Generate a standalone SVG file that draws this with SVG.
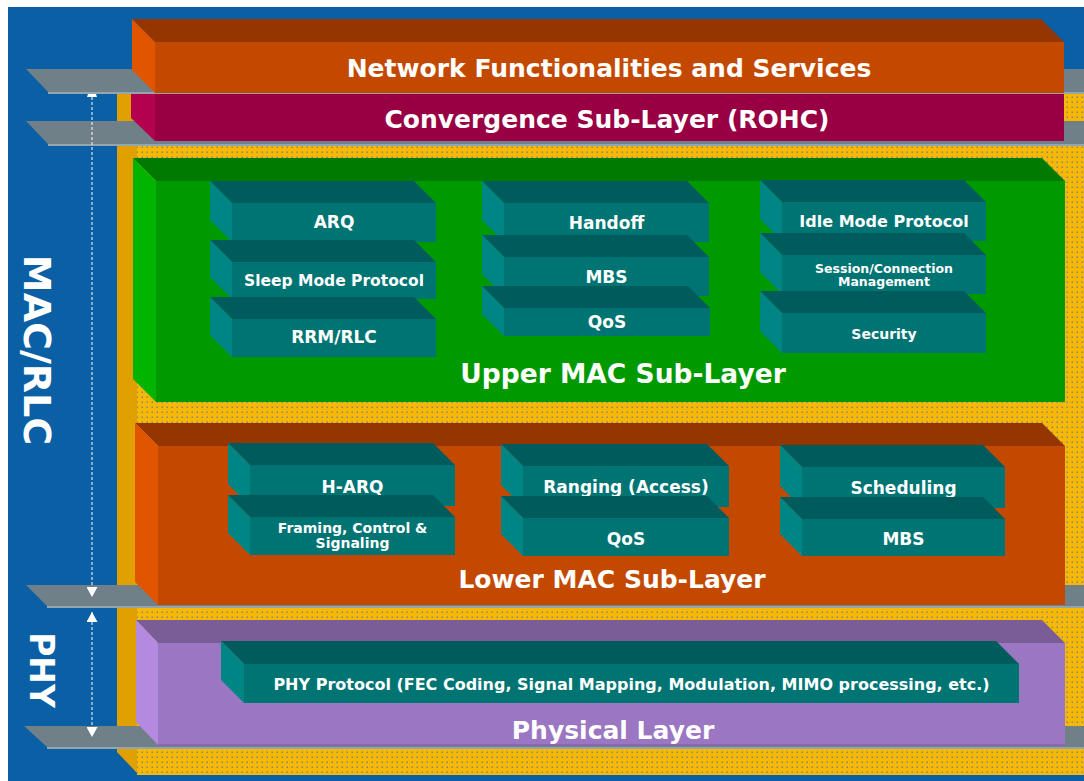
<svg xmlns="http://www.w3.org/2000/svg" width="1084" height="781" viewBox="0 0 1084 781">
<style>
.t{font-family:"DejaVu Sans",Verdana,sans-serif;font-weight:bold;fill:#ffffff;text-anchor:middle}
.big{font-size:25px}
.side{font-size:38px}
.b17{font-size:17px}
.tt{fill:#005c5c}.tf{fill:#007373}.tl{fill:#008585}
.plate{fill:#6f8089}.pline{fill:#93a5ae}
.dash{stroke:#ffffff;stroke-width:1;stroke-dasharray:3 2;fill:none}
</style>
<defs>
<pattern id="dots" width="5" height="5" patternUnits="userSpaceOnUse">
<rect width="5" height="5" fill="#f9b800"/>
<rect x="1.5" y="1.5" width="1.5" height="1.5" fill="#7f8b86"/>
</pattern>
<marker id="ah" markerWidth="11" markerHeight="11" refX="10" refY="5.5" orient="auto-start-reverse" markerUnits="userSpaceOnUse">
<path d="M0,0 L10,5.5 L0,11 z" fill="#ffffff"/>
</marker>
</defs>
<rect width="1084" height="781" fill="#ffffff"/>
<rect x="8" y="7" width="1076" height="774" fill="#0b5fa5"/>
<g id="backdrop">
<rect x="137" y="80" width="947" height="695" fill="url(#dots)"/>
<polygon points="117,80 137,80 137,773 117,752" fill="#e0a000"/>
</g>
<g id="plates">
<polygon class="plate" points="26,69 1084,69 1084,92 48,92"/><rect class="pline" x="48" y="92" width="1036" height="2"/>
<polygon class="plate" points="26,121 1084,121 1084,144 48,144"/><rect class="pline" x="48" y="144" width="1036" height="2"/>
<polygon class="plate" points="26,585 1084,585 1084,606 47,606"/><rect class="pline" x="47" y="606" width="1037" height="2"/>
<polygon class="plate" points="24,726 1084,726 1084,747 47,747"/><rect class="pline" x="47" y="747" width="1037" height="2"/>
</g>
<g id="convergence">
<polygon points="131,94 155,94 155,141 131,118" fill="#b3004f"/>
<rect x="155" y="94" width="909" height="47" fill="#990044"/>
<text class="t big" x="607" y="128">Convergence Sub-Layer (ROHC)</text>
</g>
<g id="network">
<polygon points="132,19 1041,19 1064,42 155,42" fill="#953500"/>
<polygon points="132,19 155,42 155,93 132,70" fill="#e25500"/>
<rect x="155" y="42" width="909" height="51" fill="#c44900"/>
<text class="t big" x="609" y="77">Network Functionalities and Services</text>
</g>
<g id="upper-mac">
<polygon points="133,158 1042,158 1065,181 156,181" fill="#007a00"/>
<polygon points="133,158 156,181 156,402 133,379" fill="#00b400"/>
<rect x="156" y="181" width="909" height="221" fill="#009a00"/>
<text class="t" style="font-size:26.5px" x="623" y="383">Upper MAC Sub-Layer</text>
</g>
<g id="arq">
<polygon class="tt" points="210,181 414,181 436,203 232,203"/><polygon class="tl" points="210,181 232,203 232,242 210,220"/><rect class="tf" x="232" y="203" width="204" height="39"/>
<text class="t b17" x="334" y="228">ARQ</text>
</g>
<g id="sleep-mode">
<polygon class="tt" points="210,240 414,240 436,262 232,262"/><polygon class="tl" points="210,240 232,262 232,299 210,277"/><rect class="tf" x="232" y="262" width="204" height="37"/>
<text class="t" style="font-size:15.5px" x="334" y="286">Sleep Mode Protocol</text>
</g>
<g id="rrm-rlc">
<polygon class="tt" points="210,297 414,297 436,319 232,319"/><polygon class="tl" points="210,297 232,319 232,357 210,335"/><rect class="tf" x="232" y="319" width="204" height="38"/>
<text class="t b17" x="334" y="343">RRM/RLC</text>
</g>
<g id="handoff">
<polygon class="tt" points="482,181 687,181 709,203 504,203"/><polygon class="tl" points="482,181 504,203 504,242 482,220"/><rect class="tf" x="504" y="203" width="205" height="39"/>
<text class="t b17" x="606.5" y="229">Handoff</text>
</g>
<g id="mbs-upper">
<polygon class="tt" points="482,235 687,235 709,257 504,257"/><polygon class="tl" points="482,235 504,257 504,296 482,274"/><rect class="tf" x="504" y="257" width="205" height="39"/>
<text class="t b17" x="606.5" y="283">MBS</text>
</g>
<g id="qos-upper">
<polygon class="tt" points="482,286 688,286 710,308 504,308"/><polygon class="tl" points="482,286 504,308 504,336 482,314"/><rect class="tf" x="504" y="308" width="206" height="28"/>
<text class="t b17" x="607" y="328">QoS</text>
</g>
<g id="idle-mode">
<polygon class="tt" points="760,180 964,180 986,202 782,202"/><polygon class="tl" points="760,180 782,202 782,241 760,219"/><rect class="tf" x="782" y="202" width="204" height="39"/>
<text class="t" style="font-size:16px" x="884" y="227">Idle Mode Protocol</text>
</g>
<g id="session">
<polygon class="tt" points="760,233 964,233 986,255 782,255"/><polygon class="tl" points="760,233 782,255 782,294 760,272"/><rect class="tf" x="782" y="255" width="204" height="39"/>
<text class="t" style="font-size:12.5px" x="884" y="273">Session/Connection</text>
<text class="t" style="font-size:12.5px" x="884" y="286">Management</text>
</g>
<g id="security">
<polygon class="tt" points="760,291 964,291 986,313 782,313"/><polygon class="tl" points="760,291 782,313 782,353 760,331"/><rect class="tf" x="782" y="313" width="204" height="40"/>
<text class="t" style="font-size:14px" x="884" y="339">Security</text>
</g>
<g id="lower-mac">
<polygon points="135,423 1042,423 1065,446 158,446" fill="#953500"/>
<polygon points="135,423 158,446 158,605 135,582" fill="#e25500"/>
<rect x="158" y="446" width="907" height="159" fill="#c44900"/>
<text class="t big" x="612" y="588">Lower MAC Sub-Layer</text>
</g>
<g id="h-arq">
<polygon class="tt" points="228,443 433,443 455,465 250,465"/><polygon class="tl" points="228,443 250,465 250,506 228,484"/><rect class="tf" x="250" y="465" width="205" height="41"/>
<text class="t b17" x="352.5" y="493">H-ARQ</text>
</g>
<g id="framing">
<polygon class="tt" points="228,495 433,495 455,517 250,517"/><polygon class="tl" points="228,495 250,517 250,555 228,533"/><rect class="tf" x="250" y="517" width="205" height="38"/>
<text class="t" style="font-size:14px" x="352.5" y="533">Framing, Control &amp;</text>
<text class="t" style="font-size:14px" x="352.5" y="548">Signaling</text>
</g>
<g id="ranging">
<polygon class="tt" points="501,444 707,444 729,466 523,466"/><polygon class="tl" points="501,444 523,466 523,507 501,485"/><rect class="tf" x="523" y="466" width="206" height="41"/>
<text class="t b17" x="626" y="493">Ranging (Access)</text>
</g>
<g id="qos-lower">
<polygon class="tt" points="501,496 707,496 729,518 523,518"/><polygon class="tl" points="501,496 523,518 523,556 501,534"/><rect class="tf" x="523" y="518" width="206" height="38"/>
<text class="t b17" x="626" y="545">QoS</text>
</g>
<g id="scheduling">
<polygon class="tt" points="780,445 983,445 1005,467 802,467"/><polygon class="tl" points="780,445 802,467 802,508 780,486"/><rect class="tf" x="802" y="467" width="203" height="41"/>
<text class="t b17" x="903.5" y="494">Scheduling</text>
</g>
<g id="mbs-lower">
<polygon class="tt" points="780,497 983,497 1005,519 802,519"/><polygon class="tl" points="780,497 802,519 802,556 780,534"/><rect class="tf" x="802" y="519" width="203" height="37"/>
<text class="t b17" x="903.5" y="545">MBS</text>
</g>
<g id="physical">
<polygon points="136,620 1042,620 1065,643 158,643" fill="#7a5c96"/>
<polygon points="136,620 158,643 158,745 136,722" fill="#b38ae0"/>
<rect x="158" y="643" width="907" height="102" fill="#9b76c2"/>
<rect x="158" y="744" width="907" height="2" fill="#8a68ad"/>
<text class="t big" x="613" y="739">Physical Layer</text>
</g>
<g id="phy-protocol">
<polygon class="tt" points="221,641 996,641 1019,664 244,664"/><polygon class="tl" points="221,641 244,664 244,703 221,680"/><rect class="tf" x="244" y="664" width="775" height="39"/>
<text class="t" style="font-size:16px" x="631.5" y="690">PHY Protocol (FEC Coding, Signal Mapping, Modulation, MIMO processing, etc.)</text>
</g>
<g id="side-labels">
<text class="t side" transform="translate(24,350) rotate(90)">MAC/RLC</text>
<text class="t" style="font-size:33px" transform="translate(30,670) rotate(90)">PHY</text>
</g>
<g id="connectors">
<polygon points="88,94 96,94 97,97 87,97" fill="#ffffff"/>
<line class="dash" x1="92" y1="97" x2="92" y2="597" marker-end="url(#ah)"/>
<line class="dash" x1="92" y1="612" x2="92" y2="737" marker-start="url(#ah)" marker-end="url(#ah)"/>
</g>
</svg>
